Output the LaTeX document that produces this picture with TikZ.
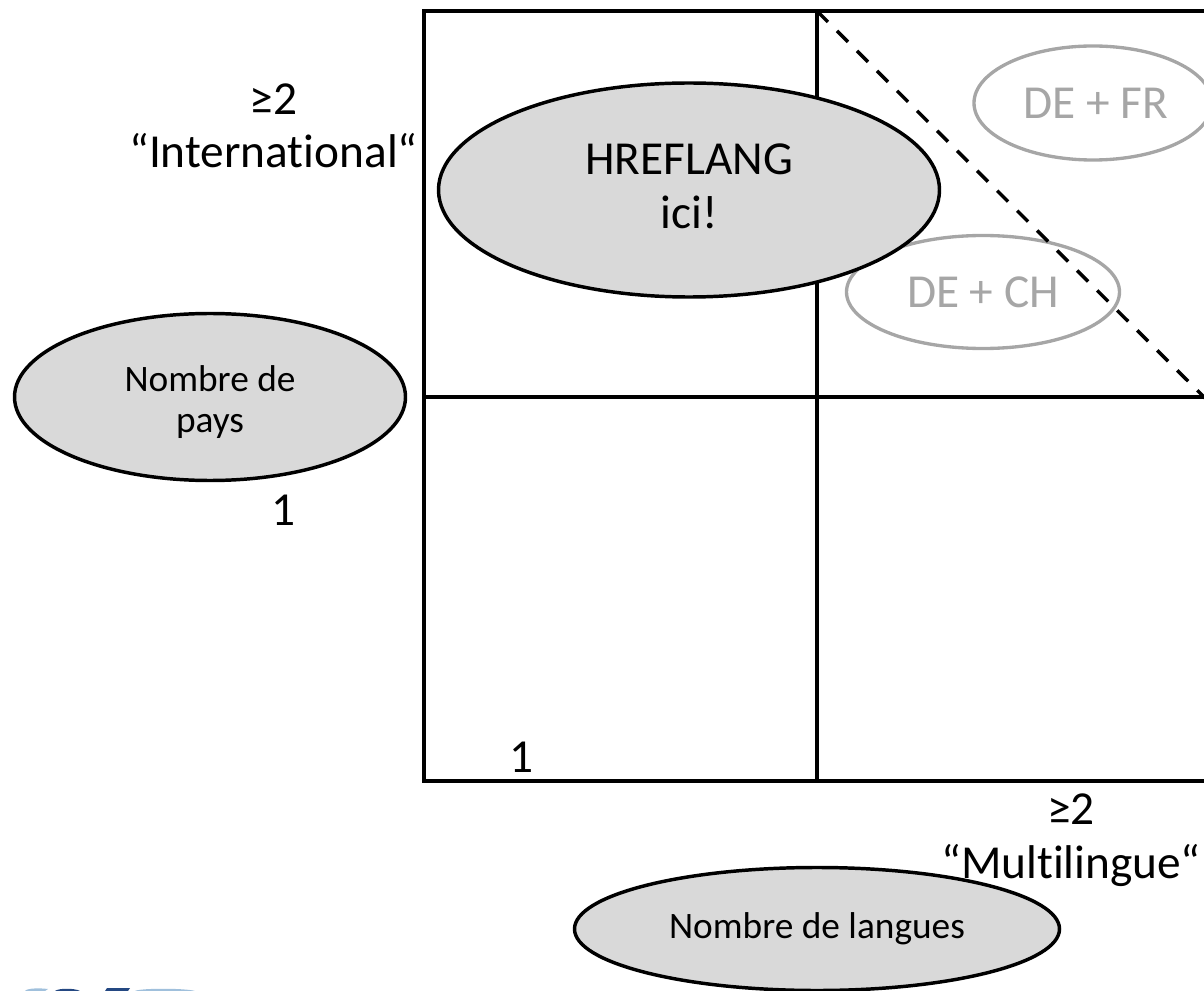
\documentclass[tikz,border=0pt]{standalone}
\usepackage{fontspec}
\setmainfont[Ligatures=CommonOff]{Carlito}
\usetikzlibrary{shapes.geometric}
\definecolor{fillgrey}{RGB}{217,217,217}
\definecolor{softgrey}{RGB}{166,166,166}
\definecolor{logolight}{RGB}{160,192,220}
\definecolor{logodark}{RGB}{36,72,130}
\tikzset{
 x=0.75pt,y=-0.75pt,
 grid/.style={draw=black,line width=2.6pt},
 oval/.style={ellipse,draw=black,fill=fillgrey,line width=2.6pt,inner sep=0pt,outer sep=0pt,align=center},
 softoval/.style={ellipse,draw=softgrey,line width=2.5pt,inner sep=0pt,outer sep=0pt,align=center,text=softgrey},
 lbl/.style={inner sep=0pt,align=center,font=\fontsize{35.5}{40}\selectfont},
}
\begin{document}
\begin{tikzpicture}
\useasboundingbox (0,0) rectangle (1204,991);
\begin{scope}
\clip (0,0) rectangle (1204,991);
\coordinate (tl) at (424,11);
\coordinate (tm) at (817,11);
\coordinate (tr) at (1210,11);
\coordinate (ml) at (424,397);
\coordinate (mr) at (1210,397);
\coordinate (bl) at (424,781);
\coordinate (bm) at (817,781);
\coordinate (br) at (1210,781);
\coordinate (de) at (1210,403);
\draw[grid] (tr) -- (tl) -- (bl) -- (br);
\draw[grid] (tm) -- (bm);
\draw[grid] (ml) -- (mr);
\node[softoval,minimum width=238pt*0.75,minimum height=114pt*0.75,font=\fontsize{35.5}{40}\selectfont] (fr) at (1093,103) {\hspace{4pt}DE + FR};
\node[softoval,minimum width=273pt*0.75,minimum height=113pt*0.75,font=\fontsize{35.5}{40}\selectfont] (ch) at (983,292) {DE + CH};
\draw[grid,dash pattern=on 11.6pt off 9.6pt] (tm) -- (de);
\node[oval,minimum width=501pt*0.75,minimum height=214pt*0.75,font=\fontsize{35.5}{40}\selectfont] (href) at (689,190) {\smash{\raisebox{-8.6pt}{HREFLANG}}\\\smash{\raisebox{-8.6pt}{ici!}}};
\node[oval,minimum width=391pt*0.75,minimum height=167pt*0.75,font=\fontsize{28}{30.75}\selectfont] (pays) at (210,397) {\smash{\raisebox{-10.9pt}{Nombre de}}\\\smash{\raisebox{-10.9pt}{pays}}};
\node[oval,minimum width=485pt*0.75,minimum height=123pt*0.75,font=\fontsize{28}{30}\selectfont] (lang) at (817,929) {\smash{\raisebox{-7pt}{Nombre de langues}}};
\node[lbl] (i2) at (273.5,141) {\smash{≥2}\\\smash{“International“}};
\node[lbl] (i1) at (283,510) {1};
\node[lbl] (m1) at (521,757) {1};
\node[lbl] (m2) at (1071,851.5) {\smash{≥2}\\\smash{“Multilingue“}};
\fill[logolight] (25,991) .. controls (27,988) and (40,988) .. (48,989) -- (45,991) -- cycle;
\fill[logodark] (55,991) .. controls (58,988) and (75,988) .. (80,991) -- cycle;
\fill[logodark] (105,991) -- (107,988) -- (130,988) -- (128,991) -- cycle;
\fill[logolight] (135,991) .. controls (140,988) and (185,988) .. (195,991) -- cycle;
\end{scope}
\end{tikzpicture}
\end{document}
